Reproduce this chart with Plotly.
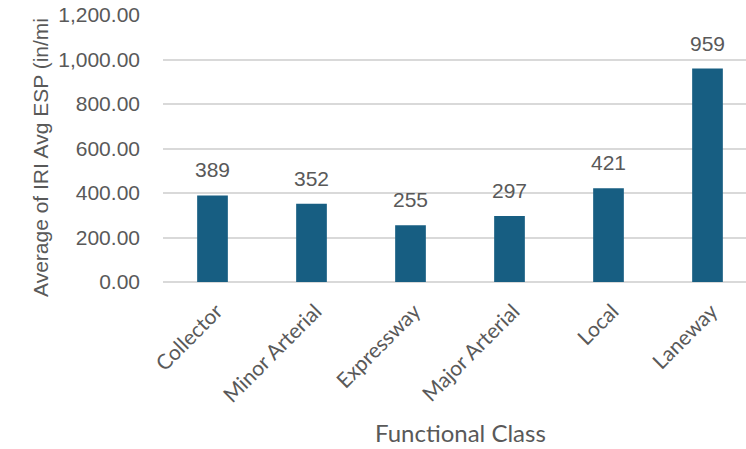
import plotly.graph_objects as go

# Average IRI (in/mi) by functional class
categories = ["Collector", "Minor Arterial", "Expressway", "Major Arterial", "Local", "Laneway"]
avg_iri = [389, 352, 255, 297, 421, 959]
y_ticks = [0, 200, 400, 600, 800, 1000, 1200]

BAR = "#175E82"
GREY = "#595959"
GRID = "#D9D9D9"

W, H = 746, 449
L, R, T, B = 163, 0, 15, 167

fig = go.Figure()
fig.add_trace(go.Bar(
    x=categories,
    y=avg_iri,
    marker=dict(color=BAR, line=dict(width=0)),
    hoverinfo="skip",
))

# value labels above each bar
for c, v in zip(categories, avg_iri):
    fig.add_annotation(
        x=c, y=v, xref="x", yref="y",
        text=str(v), showarrow=False,
        yanchor="bottom", yshift=12,
        font=dict(family="Liberation Sans", size=21, color=GREY),
    )

# y-axis title (clipped at the chart edge)
fig.add_annotation(
    x=0, y=(H - B - 158) / (H - T - B), xref="paper", yref="paper",
    xanchor="center", yanchor="middle",
    xshift=-(L - 40), text="Average of IRI Avg ESP (in/mi",
    textangle=-90, showarrow=False,
    font=dict(family="Liberation Sans", size=21, color=GREY),
)

# x-axis title
fig.add_annotation(
    x=(460 - L) / (W - L - R), y=0, xref="paper", yref="paper",
    yshift=-(432 - (H - B)), yanchor="middle", xanchor="center",
    text="Functional Class", showarrow=False,
    font=dict(family="Lato", size=24, color=GREY),
)

fig.update_layout(
    width=W, height=H,
    margin=dict(l=L, r=R, t=T, b=B, autoexpand=False),
    paper_bgcolor="white", plot_bgcolor="white",
    bargap=0.69,
    showlegend=False,
    xaxis=dict(
        range=[-0.5, -0.5 + (W - L - R) / 99.0],
        tickangle=-45,
        tickfont=dict(family="Lato", size=21, color=GREY),
        showgrid=False, zeroline=False, showline=False,
        ticks="", ticklen=0, ticklabelstandoff=12, ticklabelshift=4,
    ),
    yaxis=dict(
        range=[0, 1200],
        tickvals=y_ticks,
        ticktext=[f"{v:,.2f}" for v in y_ticks],
        tickfont=dict(family="Liberation Sans", size=21, color=GREY),
        showgrid=True, gridcolor=GRID, gridwidth=1.5,
        zeroline=True, zerolinecolor=GRID, zerolinewidth=1.5,
        showline=False, ticks="", ticklabelstandoff=22,
    ),
)

fig.write_html("out.html")
